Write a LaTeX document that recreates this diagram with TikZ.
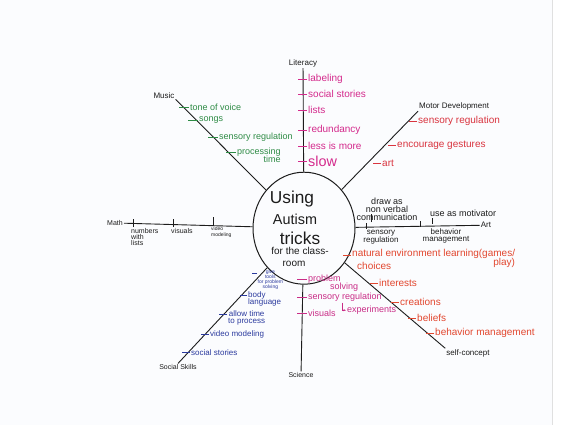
\documentclass[tikz,border=0pt]{standalone}
\usepackage{fontspec}
\setmainfont{Liberation Sans}
\usetikzlibrary{arrows.meta, positioning, shapes.geometric}
\definecolor{Paper}{HTML}{FBFCFE}
\definecolor{Ink}{HTML}{1C1C1C}
\definecolor{MusicGreen}{HTML}{2E8B45}
\definecolor{LitPink}{HTML}{D42A8C}
\definecolor{MotorRed}{HTML}{D9343F}
\definecolor{SkillBlue}{HTML}{2B3A9E}
\definecolor{SciPink}{HTML}{C92C86}
\definecolor{SelfRed}{HTML}{E2472F}

\begin{document}
\begin{tikzpicture}[x=1pt, y=-1pt,
    hub/.style={ellipse, draw=Ink, line width=1pt, minimum width=102pt, minimum height=112pt, inner sep=0pt},
    hubtxt/.style={Ink, inner sep=0pt},
    spoke/.style={draw=Ink, line width=0.9pt},
    topic/.style={font=\footnotesize, Ink, inner sep=1pt},
    leaf/.style={font=\normalsize, inner sep=1pt, anchor=west},
    tickline/.style={line width=0.6pt}
]
% Paper
\fill[white] (0,0) rectangle (562,425);
\fill[Paper] (0,0) rectangle (552,425);
\draw[black!12] (552,0) -- (552,425);

% Centre
\node[hub] (hub) at (304,228) {};
\node[hubtxt, font=\LARGE] (using) at (292,199) {Using};
\node[hubtxt, font=\Large] (autism) at (295,219) {Autism};
\node[hubtxt, font=\LARGE] (tricks) at (300,238) {tricks};
\node[hubtxt, font=\normalsize] (forthe) at (300,251) {for the class-};
\node[hubtxt, font=\normalsize] (room) at (294,264) {room};

% Literacy
\node[topic] (lit) at (303,63) {Literacy};
\draw[spoke] (hub) -- (lit);
\foreach \y/\t/\n in {79/labeling/1, 94/social stories/2, 110/lists/3, 130/redundancy/4, 146/less is more/5} {
    \node[leaf, LitPink] (lit\n) at (307,\y) {\t};
    \draw[tickline, LitPink] (lit\n.west) -- ++(-9,0);
}
\node[leaf, LitPink, font=\Large] (lit6) at (307,161) {slow};
\draw[tickline, LitPink] (lit6.west) -- ++(-9,0);

% Music
\node[topic] (music) at (164,95) {Music};
\draw[spoke] (hub) -- (music.south east);
\foreach \x/\y/\t/\n in {189/107/tone of voice/1, 198/120/songs/2, 218/137/sensory regulation/3, 236/152/processing/4} {
    \node[leaf, MusicGreen, font=\small] (mus\n) at (\x,\y) {\t};
    \draw[tickline, MusicGreen] (mus\n.west) -- ++(-10,0);
}
\node[MusicGreen, font=\small, inner sep=1pt, anchor=north east] (mus5) at ([yshift=3pt]mus4.south east) {time};

% Motor Development
\node[topic, anchor=south west] (motor) at (418,111) {Motor Development};
\draw[spoke] (hub) -- (motor.south west);
\foreach \x/\y/\t/\n in {417/121/sensory regulation/1, 396/145/encourage gestures/2, 381/163/art/3} {
    \node[leaf, MotorRed] (mot\n) at (\x,\y) {\t};
    \draw[tickline, MotorRed] (mot\n.west) -- ++(-8,0);
}

% Math
\node[topic, font=\scriptsize, anchor=east] (math) at (124,223) {Math};
\draw[spoke] (math.east) -- (hub);
\node[Ink, font=\scriptsize, align=left, anchor=north west, inner sep=1pt] (mat1) at (130,227) {numbers\\[-2pt]with\\[-2pt]lists};
\node[Ink, font=\scriptsize, anchor=north west, inner sep=1pt] (mat2) at (170,227) {visuals};
\node[Ink, font=\tiny, align=left, anchor=north west, inner sep=1pt] (mat3) at (210,225) {video\\modeling};
\foreach \n in {1,2,3} {
    \draw[tickline, Ink] ([xshift=3pt]mat\n.north west) -- ++(0,-8);
}

% Art
\node[topic] (art) at (486,225) {Art};
\draw[spoke] (hub) -- (art);
\node[Ink, font=\small, align=center, anchor=south, inner sep=1pt] (art1) at (387,222) {draw as\\[-3pt]non verbal\\[-3pt]communication};
\node[Ink, font=\small, anchor=south west, inner sep=1pt] (art2) at (429,218) {use as motivator};
\node[Ink, font=\footnotesize, align=center, anchor=north, inner sep=1pt] (art3) at (381,229) {sensory\\[-2pt]regulation};
\node[Ink, font=\footnotesize, align=center, anchor=north, inner sep=1pt] (art4) at (446,227) {behavior\\[-2pt]management};
\draw[tickline, Ink] ([xshift=-16pt]art1.south) -- ++(0,-8);
\draw[tickline, Ink] ([xshift=3pt]art2.south west) -- ++(0,6);
\draw[tickline, Ink] ([xshift=4pt]art3.north west) -- ++(0,-6);
\draw[tickline, Ink] ([xshift=-1pt]art4.north west) -- ++(0,-6);

% Social Skills
\node[topic, font=\scriptsize] (social) at (178,367) {Social Skills};
\draw[spoke] (hub) -- (social.north);
\node[SkillBlue, font=\tiny, align=center, anchor=north west, inner sep=0.5pt] (soc1) at (257,269) {give\\[-1pt]tools\\[-1pt]for problem\\[-1pt]solving};
\draw[tickline, SkillBlue] ([yshift=-4pt]soc1.north west) -- ++(-5,0);
\node[SkillBlue, font=\footnotesize, align=left, anchor=north west, inner sep=1pt] (soc2) at (247,290) {body\\[-2pt]language};
\draw[tickline, SkillBlue] ([yshift=-5pt]soc2.north west) -- ++(-7,0);
\node[SkillBlue, font=\footnotesize, align=center, anchor=north west, inner sep=1pt] (soc3) at (227,309) {allow time\\[-2pt]to process};
\draw[tickline, SkillBlue] ([yshift=-5pt]soc3.north west) -- ++(-8,0);
\foreach \x/\y/\t/\n in {209/334/video modeling/4, 190/352/social stories/5} {
    \node[leaf, SkillBlue, font=\footnotesize] (soc\n) at (\x,\y) {\t};
    \draw[tickline, SkillBlue] (soc\n.west) -- ++(-8,0);
}

% Science
\node[topic, font=\scriptsize] (sci) at (301,375) {Science};
\draw[spoke] (hub) -- (sci);
\foreach \y/\t/\n in {279/problem/1, 297/sensory regulation/2, 313/visuals/3} {
    \node[leaf, SciPink, font=\small] (sci\n) at (307,\y) {\t};
    \draw[tickline, SciPink] (sci\n.west) -- ++(-10,0);
}
\node[leaf, SciPink, font=\small] (solv) at (329,287) {solving};
\node[leaf, SciPink, font=\small] (exper) at (346,310) {experiments};
\draw[tickline, SciPink, -{Stealth[length=2.5pt]}] ([xshift=35pt]sci2.south west) |- (exper.west);

% Self-concept
\node[topic] (self) at (468,353) {self-concept};
\draw[spoke] (hub) -- (self.north west);
\node[SelfRed, font=\normalsize, align=right, anchor=north west, inner sep=1pt] (slf1) at (351,248) {natural environment learning(games/\\[-3pt]play)};
\draw[tickline, SelfRed] ([yshift=-7pt]slf1.north west) -- ++(-8,0);
\node[leaf, SelfRed] (slf2) at (356,266) {choices};
\foreach \x/\y/\t/\n in {378/283/interests/3, 399/302/creations/4, 416/318/beliefs/5, 434/333/behavior management/6} {
    \node[leaf, SelfRed] (slf\n) at (\x,\y) {\t};
    \draw[tickline, SelfRed] (slf\n.west) -- ++(-8,0);
}
\end{tikzpicture}
\end{document}
